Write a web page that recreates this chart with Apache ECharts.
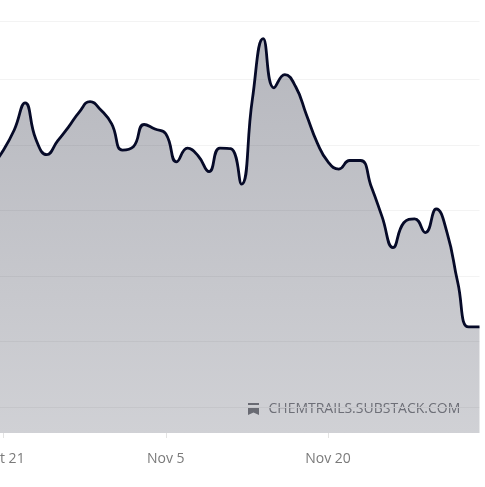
<!DOCTYPE html>
<html>
<head>
<meta charset="utf-8">
<style>html,body{margin:0;padding:0;background:#fff;overflow:hidden}#c{width:485px;height:487px}</style>
<script src="https://cdn.jsdelivr.net/npm/echarts@6/dist/echarts.min.js"></script>
</head>
<body>
<div id="c"></div>
<script>
const categories = ['Oct 20','Oct 21','Oct 22','Oct 23','Oct 24','Oct 25','Oct 26','Oct 27','Oct 28','Oct 29','Oct 30','Oct 31','Nov 1','Nov 2','Nov 3','Nov 4','Nov 5','Nov 6','Nov 7','Nov 8','Nov 9','Nov 10','Nov 11','Nov 12','Nov 13','Nov 14','Nov 15','Nov 16','Nov 17','Nov 18','Nov 19','Nov 20','Nov 21','Nov 22','Nov 23','Nov 24','Nov 25','Nov 26','Nov 27','Nov 28','Nov 29','Nov 30','Dec 1','Dec 2','Dec 3','Dec 4'];
const values = [46.9,49.2,52.3,56.4,50.8,48.5,50.6,52.7,55.0,56.6,55.3,53.2,49.2,49.7,53.1,52.4,51.7,47.4,49.5,48.3,45.9,49.5,49.4,44.0,56.9,66.2,58.7,60.7,58.9,54.6,50.3,47.4,46.3,47.6,47.6,43.6,39.0,34.3,38.1,38.7,36.6,40.2,36.6,28.9,22.2,22.2];
const gridValues = [10,20,30,40,50,60,68.9];
const shownLabels = ['Oct 21','Nov 5','Nov 20'];
const watermark = 'CHEMTRAILS.SUBSTACK.COM';
const chart = echarts.init(document.getElementById('c'), null, {renderer:'canvas'});
const isShown = (i, name) => shownLabels.includes(name);
chart.setOption({
  animation:false,
  backgroundColor:'#fff',
  grid:{left:-7.3,right:5.5,top:21,bottom:54,containLabel:false,outerBoundsMode:'none'},
  xAxis:{type:'category',boundaryGap:false,data:categories,
    axisLine:{show:false},
    axisTick:{show:true,length:5,interval:isShown,lineStyle:{color:'#e3e3e3',width:1}},
    axisLabel:{interval:isShown,margin:19,color:'#7a7a7a',fontFamily:'"Open Sans"',fontSize:14},
    splitLine:{show:false}},
  yAxis:{type:'value',min:6,max:68.9,
    axisLine:{show:false},
    axisTick:{show:false,customValues:gridValues},
    axisLabel:{show:false,customValues:gridValues},
    splitLine:{show:true,lineStyle:{color:'#f3f3f3',width:1}}},
  series:[{type:'line',data:values,smooth:0.5,showSymbol:false,
    lineStyle:{color:'#060a28',width:2.8},
    areaStyle:{opacity:1,color:new echarts.graphic.LinearGradient(0,0,0,1,[
      {offset:0,color:'rgba(20,24,45,0.31)'},{offset:1,color:'rgba(20,24,45,0.20)'}])}}],
  graphic:[
    {type:'polygon',shape:{points:[[248,403],[259,403],[259,405],[248,405]]},style:{fill:'#7f8085'},silent:true},
    {type:'polygon',shape:{points:[[248,407],[259,407],[259,415],[253.5,412.5],[248,415]]},style:{fill:'#7f8085'},silent:true},
    {type:'text',left:268.5,top:402,style:{text:watermark,fill:'#85868b',font:'14px "Open Sans"'},silent:true}
  ]
});
</script>
</body>
</html>
